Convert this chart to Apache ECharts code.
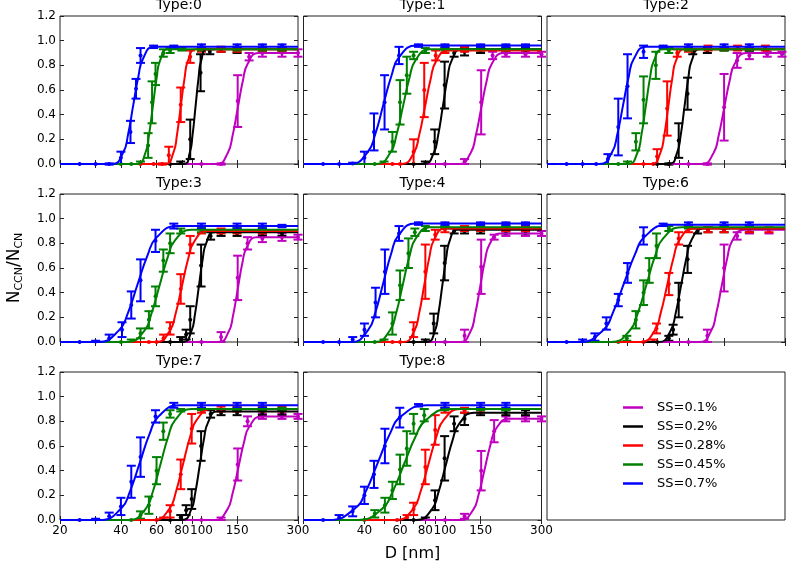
<!DOCTYPE html>
<html><head><meta charset="utf-8">
<script src="https://cdn.jsdelivr.net/npm/echarts@6/dist/echarts.min.js"></script>
<style>html,body{margin:0;padding:0;background:#fff}#c{width:787px;height:564px}</style>
</head><body><div id="c"></div>
<script>
// ---------- data ----------
const panelTitles = ['Type:0','Type:1','Type:2','Type:3','Type:4','Type:6','Type:7','Type:8'];
const ssLabels = ['SS=0.1%','SS=0.2%','SS=0.28%','SS=0.45%','SS=0.7%'];
const xTickValues = [20,30,40,50,60,70,80,90,100,150,300];
const xTickLabels = [20,40,60,80,100,150,300];
const yTickLabels = [0,0.2,0.4,0.6,0.8,1.0,1.2];

// measured points [D, mean, err]; order per panel: SS=0.1, 0.2, 0.28, 0.45, 0.7
const pts0 = [
 [[100,0,0],[125,0,0.005],[151,0.51,0.21],[172,0.87,0.03],[200,0.9,0.03],[250,0.9,0.03],[300,0.9,0.03]],
 [[70,0,0],[79,0.01,0.01],[88,0.2,0.16],[99,0.74,0.15],[110,0.91,0.02],[125,0.93,0.02],[150,0.92,0.02],[200,0.93,0.02],[250,0.93,0.01]],
 [[50,0,0],[58,0,0],[64,0,0.005],[69,0.07,0.07],[79,0.48,0.14],[88,0.87,0.05],[100,0.93,0.02],[125,0.93,0.02],[150,0.93,0.02],[200,0.93,0.02],[250,0.93,0.02]],
 [[40,0,0],[45,0,0],[50,0.01,0.01],[54.5,0.15,0.1],[57,0.5,0.17],[59.3,0.73,0.09],[64.8,0.9,0.03],[70,0.92,0.02],[80,0.93,0.01],[100,0.93,0.01],[150,0.93,0.01],[200,0.93,0.01],[250,0.93,0.01]],
 [[25,0,0],[30,0,0],[35,0,0.005],[40,0.05,0.05],[44.6,0.26,0.09],[47.5,0.61,0.08],[50,0.88,0.06],[58,0.95,0.01],[73,0.95,0.01],[100,0.96,0.01],[150,0.96,0.01],[200,0.96,0.01],[250,0.96,0.01]]
];
const pts1 = [
 [[100,0,0],[125,0.02,0.02],[151,0.5,0.26],[172,0.88,0.03],[200,0.89,0.02],[250,0.89,0.02],[300,0.89,0.02]],
 [[70,0,0],[80,0.01,0.01],[89,0.18,0.1],[99.6,0.64,0.19],[111,0.9,0.03],[125,0.91,0.03],[150,0.92,0.02],[200,0.92,0.02],[250,0.92,0.02]],
 [[55,0,0],[60,0,0],[70,0.1,0.1],[79,0.6,0.22],[90,0.88,0.04],[100,0.92,0.02],[125,0.93,0.02],[150,0.93,0.01],[200,0.93,0.01]],
 [[45,0,0],[50,0.01,0.01],[55,0.18,0.08],[60,0.5,0.18],[64.8,0.72,0.15],[70,0.88,0.03],[80,0.92,0.02],[100,0.93,0.01],[150,0.93,0.01],[200,0.93,0.01]],
 [[25,0,0],[30,0,0],[35,0.005,0.005],[40,0.05,0.05],[44.6,0.26,0.15],[50.3,0.5,0.22],[59.3,0.88,0.07],[74,0.96,0.01],[100,0.96,0.01],[150,0.96,0.01],[200,0.96,0.01],[250,0.96,0.01]]
];
const pts2 = [
 [[100,0,0],[124,0,0.005],[150,0.46,0.27],[174,0.84,0.06],[200,0.88,0.03],[245,0.89,0.02],[290,0.89,0.02]],
 [[70,0,0],[80,0,0.005],[89.5,0.19,0.14],[99,0.57,0.13],[105,0.91,0.02],[124,0.92,0.02],[150,0.93,0.01],[200,0.93,0.01]],
 [[60,0,0],[67,0,0],[70,0.06,0.06],[78.5,0.45,0.22],[88,0.9,0.03],[100,0.93,0.02],[125,0.94,0.02],[175,0.94,0.02],[240,0.94,0.02]],
 [[45,0,0],[50,0.01,0.01],[55,0.18,0.07],[60,0.52,0.19],[69,0.8,0.11],[80,0.92,0.02],[100,0.93,0.01],[150,0.93,0.01],[200,0.93,0.01]],
 [[25,0,0],[30,0,0],[35,0,0],[40,0.04,0.04],[45,0.3,0.23],[50,0.63,0.26],[60,0.91,0.05],[75,0.95,0.01],[100,0.96,0.01],[150,0.96,0.01],[200,0.96,0.01]]
];
const pts3 = [
 [[100,0,0],[125,0.04,0.04],[151,0.52,0.18],[169,0.8,0.05],[200,0.84,0.03],[250,0.85,0.03],[300,0.85,0.02]],
 [[70,0,0],[79,0.02,0.02],[84,0.06,0.04],[88,0.18,0.11],[99.6,0.62,0.17],[111,0.86,0.03],[125,0.88,0.02],[150,0.88,0.02],[200,0.88,0.02],[250,0.88,0.02]],
 [[55,0,0],[60,0,0],[65,0.03,0.03],[70,0.11,0.05],[79,0.43,0.12],[88,0.79,0.07],[100,0.9,0.02],[125,0.9,0.02],[150,0.9,0.02],[200,0.9,0.02]],
 [[40,0,0],[45,0.01,0.01],[50,0.07,0.04],[55,0.18,0.07],[59.3,0.37,0.08],[64.8,0.66,0.09],[70,0.8,0.08],[79,0.9,0.02],[100,0.91,0.02],[150,0.91,0.02],[200,0.91,0.02]],
 [[25,0,0],[30,0.005,0.005],[35,0.03,0.03],[40.5,0.1,0.06],[45,0.3,0.11],[50,0.5,0.17],[59.3,0.82,0.09],[73,0.94,0.02],[100,0.94,0.02],[150,0.94,0.02],[200,0.94,0.02],[250,0.94,0.01]]
];
const pts4 = [
 [[100,0,0],[125,0.05,0.05],[151,0.61,0.22],[175,0.85,0.02],[200,0.88,0.02],[250,0.88,0.02],[300,0.88,0.02]],
 [[70,0,0],[80,0.01,0.01],[88,0.15,0.08],[99.6,0.64,0.14],[111,0.9,0.02],[125,0.9,0.02],[150,0.9,0.02],[200,0.9,0.02],[250,0.9,0.02]],
 [[55,0,0],[60,0,0],[70,0.1,0.06],[80,0.57,0.22],[89.5,0.87,0.04],[100,0.91,0.02],[125,0.92,0.02],[150,0.92,0.02],[200,0.92,0.02],[250,0.92,0.02]],
 [[45,0,0],[50,0.01,0.01],[55,0.15,0.09],[60,0.46,0.12],[66,0.72,0.12],[71,0.89,0.03],[80,0.92,0.02],[100,0.93,0.01],[150,0.93,0.01],[200,0.93,0.01]],
 [[25,0,0],[30,0,0],[35,0.02,0.02],[40,0.1,0.05],[45.4,0.32,0.12],[50.5,0.57,0.18],[59.3,0.88,0.06],[74,0.96,0.01],[100,0.96,0.01],[150,0.96,0.01],[200,0.96,0.01],[250,0.96,0.01]]
];
const pts6 = [
 [[100,0,0],[124,0.05,0.05],[150,0.6,0.19],[174,0.86,0.03],[200,0.9,0.02],[250,0.9,0.02]],
 [[70,0,0],[80,0.03,0.02],[84,0.1,0.04],[89.5,0.34,0.14],[99,0.67,0.11],[111,0.9,0.02],[125,0.91,0.02],[150,0.91,0.02],[200,0.91,0.02]],
 [[60,0,0],[67,0.01,0.01],[69.5,0.11,0.04],[80,0.47,0.09],[89.5,0.84,0.05],[100,0.91,0.02],[125,0.91,0.02],[150,0.91,0.02],[200,0.91,0.02],[250,0.91,0.02]],
 [[45,0,0],[49.6,0.03,0.02],[55,0.18,0.07],[60,0.4,0.1],[64,0.58,0.1],[69.5,0.78,0.1],[80,0.92,0.02],[100,0.93,0.01],[150,0.93,0.01],[200,0.93,0.01]],
 [[25,0,0],[30,0.01,0.01],[34.5,0.04,0.03],[39.3,0.15,0.05],[45,0.34,0.05],[50,0.56,0.08],[60,0.86,0.07],[75,0.95,0.01],[100,0.96,0.01],[150,0.96,0.01],[200,0.96,0.01]]
];
const pts7 = [
 [[100,0,0],[125,0.01,0.01],[151,0.45,0.13],[169,0.8,0.04],[200,0.84,0.02],[250,0.84,0.02],[300,0.84,0.02]],
 [[70,0,0],[79,0.02,0.02],[84,0.08,0.04],[89.5,0.17,0.08],[99.6,0.6,0.12],[111,0.86,0.03],[125,0.87,0.02],[150,0.87,0.02],[200,0.87,0.02],[250,0.87,0.02]],
 [[60,0,0],[65,0.01,0.01],[70,0.07,0.05],[79,0.37,0.12],[89.5,0.74,0.12],[100,0.89,0.02],[125,0.9,0.02],[150,0.9,0.02],[200,0.9,0.02],[250,0.9,0.02]],
 [[45,0,0],[50,0.04,0.03],[55,0.12,0.07],[60,0.4,0.11],[64.8,0.72,0.07],[70,0.86,0.03],[79,0.89,0.01],[100,0.9,0.01],[150,0.9,0.01],[200,0.9,0.01],[250,0.9,0.01]],
 [[25,0,0],[30,0.005,0.005],[35,0.03,0.03],[40,0.11,0.07],[45,0.31,0.13],[50,0.51,0.16],[59.3,0.84,0.05],[73,0.93,0.02],[100,0.93,0.02],[150,0.93,0.02],[200,0.93,0.02]]
];
const pts8 = [
 [[100,0,0],[125,0.03,0.02],[151,0.4,0.16],[175,0.72,0.09],[200,0.82,0.02],[250,0.82,0.02],[300,0.82,0.02]],
 [[70,0,0],[80,0.01,0.01],[89.3,0.16,0.08],[99.6,0.5,0.18],[111,0.78,0.06],[125,0.82,0.05],[150,0.87,0.02],[200,0.87,0.02],[250,0.87,0.02]],
 [[58,0,0],[65,0.02,0.02],[70,0.09,0.05],[80,0.43,0.14],[89.5,0.73,0.12],[100,0.89,0.02],[125,0.89,0.02],[150,0.89,0.02]],
 [[40,0,0],[45,0.05,0.03],[50.5,0.12,0.06],[55,0.24,0.07],[60,0.41,0.12],[64.8,0.58,0.14],[70,0.78,0.08],[79,0.85,0.05],[100,0.9,0.01],[150,0.9,0.01],[200,0.9,0.01]],
 [[25,0,0],[30,0.02,0.02],[35,0.07,0.04],[40,0.2,0.07],[44.6,0.37,0.11],[50.5,0.6,0.14],[59.8,0.83,0.08],[74,0.93,0.01],[100,0.93,0.02],[150,0.93,0.02],[200,0.93,0.02]]
];

// fitted curves [D, fraction]
const fit0 = [
 [[20,0],[119.2,0],[134.9,0.09],[142.3,0.225],[151,0.45],[160.2,0.675],[169,0.81],[191.3,0.9],[300,0.9]],
 [[20,0],[81.5,0],[87.6,0.093],[90.3,0.23],[93.5,0.465],[96.8,0.7],[99.8,0.84],[107.3,0.93],[300,0.93]],
 [[20,0],[66.2,0],[72.7,0.093],[75.6,0.23],[79,0.465],[82.6,0.7],[85.9,0.84],[94.2,0.93],[300,0.93]],
 [[20,0],[48.2,0],[52.9,0.093],[55,0.23],[57.5,0.465],[60.1,0.7],[62.5,0.84],[68.6,0.93],[300,0.93]],
 [[20,0],[36.3,0],[41.1,0.095],[43.4,0.24],[46,0.475],[48.8,0.71],[51.5,0.855],[58.3,0.95],[300,0.95]]
];
const fit1 = [
 [[20,0],[117.4,0],[134,0.09],[141.8,0.225],[151,0.45],[160.8,0.675],[170.2,0.81],[194.3,0.9],[300,0.9]],
 [[20,0],[78.8,0],[88.2,0.093],[92.5,0.23],[97.6,0.465],[103,0.7],[108,0.84],[120.9,0.93],[300,0.93]],
 [[20,0],[61.2,0],[70.2,0.092],[74.5,0.23],[79.6,0.46],[85,0.69],[90.2,0.83],[103.6,0.92],[300,0.92]],
 [[20,0],[45.9,0],[53.8,0.093],[57.5,0.23],[62,0.465],[66.8,0.7],[71.5,0.84],[83.7,0.93],[300,0.93]],
 [[20,0],[34.1,0],[41.5,0.096],[45.2,0.24],[49.6,0.48],[54.5,0.72],[59.2,0.864],[72.1,0.96],[300,0.96]]
];
const fit2 = [
 [[20,0],[116.6,0],[133.1,0.09],[140.8,0.225],[150,0.45],[159.8,0.675],[169.1,0.81],[193,0.9],[300,0.9]],
 [[20,0],[80.2,0],[87.9,0.093],[91.5,0.23],[95.6,0.465],[99.9,0.7],[103.9,0.84],[114,0.93],[300,0.93]],
 [[20,0],[65.9,0],[72.7,0.093],[75.9,0.23],[79.5,0.465],[83.3,0.7],[86.9,0.84],[95.9,0.93],[300,0.93]],
 [[20,0],[50.4,0],[56,0.093],[58.5,0.23],[61.5,0.465],[64.6,0.7],[67.6,0.84],[75,0.93],[300,0.93]],
 [[20,0],[36.5,0],[41.9,0.095],[44.5,0.24],[47.5,0.475],[50.7,0.71],[53.8,0.855],[61.8,0.95],[300,0.95]]
];
const fit3 = [
 [[20,0],[121.9,0],[136.4,0.085],[143.1,0.21],[151,0.425],[159.3,0.64],[167.2,0.765],[187,0.85],[300,0.85]],
 [[20,0],[81.3,0],[89.2,0.089],[92.8,0.22],[97,0.445],[101.4,0.67],[105.5,0.8],[115.7,0.89],[300,0.89]],
 [[20,0],[59.9,0],[69.7,0.09],[74.4,0.225],[80,0.45],[86,0.675],[91.8,0.81],[106.8,0.9],[300,0.9]],
 [[20,0],[43.1,0],[52.2,0.091],[56.6,0.23],[62,0.455],[67.9,0.68],[73.7,0.82],[89.2,0.91],[300,0.91]],
 [[20,0],[30.9,0],[39.1,0.094],[43.3,0.235],[48.4,0.47],[54.2,0.705],[59.9,0.846],[75.9,0.94],[300,0.94]]
];
const fit4 = [
 [[20,0],[118.9,0],[133.9,0.088],[140.8,0.22],[149,0.44],[157.6,0.66],[165.9,0.79],[186.7,0.88],[300,0.88]],
 [[20,0],[81.3,0],[89.2,0.091],[92.8,0.23],[97,0.455],[101.4,0.68],[105.5,0.82],[115.7,0.91],[300,0.91]],
 [[20,0],[62.3,0],[70.6,0.092],[74.5,0.23],[79,0.46],[83.8,0.69],[88.4,0.83],[100.1,0.92],[300,0.92]],
 [[20,0],[45.3,0],[53.4,0.093],[57.3,0.23],[61.9,0.465],[66.9,0.7],[71.8,0.84],[84.5,0.93],[300,0.93]],
 [[20,0],[34.5,0],[41.7,0.096],[45.3,0.24],[49.6,0.48],[54.3,0.72],[58.9,0.864],[71.3,0.96],[300,0.96]]
];
const fit6 = [
 [[20,0],[113.5,0],[129.5,0.091],[137.1,0.23],[146,0.455],[155.5,0.68],[164.6,0.82],[187.8,0.91],[300,0.91]],
 [[20,0],[71.5,0],[81.6,0.092],[86.4,0.23],[92,0.46],[98,0.69],[103.7,0.83],[118.4,0.92],[300,0.92]],
 [[20,0],[58.1,0],[68.1,0.092],[72.8,0.23],[78.5,0.46],[84.6,0.69],[90.5,0.83],[106,0.92],[300,0.92]],
 [[20,0],[41.6,0],[51.3,0.093],[56.1,0.23],[62,0.465],[68.5,0.7],[75,0.84],[92.4,0.93],[300,0.93]],
 [[20,0],[29.1,0],[37.9,0.095],[42.4,0.24],[48,0.475],[54.4,0.71],[60.9,0.855],[79.1,0.95],[300,0.95]]
];
const fit7 = [
 [[20,0],[116.8,0],[134.1,0.084],[142.3,0.21],[152,0.42],[162.3,0.63],[172.2,0.756],[197.8,0.84],[300,0.84]],
 [[20,0],[80.3,0],[89.2,0.088],[93.2,0.22],[98,0.44],[103,0.66],[107.7,0.79],[119.6,0.88],[300,0.88]],
 [[20,0],[58.4,0],[69.4,0.09],[74.7,0.225],[81,0.45],[87.9,0.675],[94.6,0.81],[112.3,0.9],[300,0.9]],
 [[20,0],[44.1,0],[53,0.09],[57.4,0.225],[62.7,0.45],[68.5,0.675],[74.1,0.81],[89.2,0.9],[300,0.9]],
 [[20,0],[31.6,0],[40.1,0.093],[44.3,0.23],[49.6,0.465],[55.5,0.7],[61.4,0.84],[77.8,0.93],[300,0.93]]
];
const fit8 = [
 [[20,0],[119.3,0],[137.8,0.082],[146.6,0.205],[157,0.41],[168.1,0.615],[178.9,0.74],[206.6,0.82],[300,0.82]],
 [[20,0],[72.6,0],[86.2,0.087],[92.7,0.22],[100.6,0.435],[109.2,0.65],[117.5,0.78],[139.4,0.87],[300,0.87]],
 [[20,0],[57.6,0],[69.7,0.09],[75.6,0.225],[82.8,0.45],[90.7,0.675],[98.4,0.81],[119.1,0.9],[300,0.9]],
 [[20,0],[37.1,0],[48.9,0.09],[55,0.225],[62.7,0.45],[71.5,0.675],[80.4,0.81],[105.9,0.9],[300,0.9]],
 [[20,0],[26.8,0],[35.9,0.093],[40.6,0.23],[46.6,0.465],[53.5,0.7],[60.6,0.84],[80.9,0.93],[300,0.93]]
];

// ---------- styles / layout ----------
const colors = ['#bf00bf','#000000','#ff0000','#008000','#0000ff'];
const FONT = 'DejaVu Sans';
const colLefts = [60, 303.5, 547];
const rowTops = [16, 194, 372];
const PW = 238, PH = 148;

const allPts = [pts0, pts1, pts2, pts3, pts4, pts6, pts7, pts8];
const allFits = [fit0, fit1, fit2, fit3, fit4, fit6, fit7, fit8];

function makeErrRender(color){
  return function(params, api){
    const x = api.value(0);
    const lo = api.coord([x, api.value(1)]);
    const hi = api.coord([x, api.value(2)]);
    const m = api.coord([x, api.value(3)]);
    const hw = 4.5;
    const st = {stroke: color, lineWidth: 2, fill: 'none'};
    return {type:'group', children:[
      {type:'line', shape:{x1:lo[0],y1:lo[1],x2:hi[0],y2:hi[1]}, style:st},
      {type:'line', shape:{x1:lo[0]-hw,y1:lo[1],x2:lo[0]+hw,y2:lo[1]}, style:st},
      {type:'line', shape:{x1:hi[0]-hw,y1:hi[1],x2:hi[0]+hw,y2:hi[1]}, style:st},
      {type:'circle', shape:{cx:m[0],cy:m[1],r:2}, style:{fill:color, stroke:null}}
    ]};
  };
}

const grid = [], xAxis = [], yAxis = [], series = [];
for (let i = 0; i < 8; i++) {
  const r = Math.floor(i / 3), c = i % 3;
  grid.push({left: colLefts[c], top: rowTops[r], width: PW, height: PH, show: true,
    borderColor: '#222', borderWidth: 1, backgroundColor: '#fff', outerBoundsMode: 'none'});
  const xtick = {show: true, inside: true, length: 4, customValues: xTickValues, lineStyle: {color: '#222', width: 1}};
  const labs = (c === 0) ? xTickLabels : xTickLabels.slice(1);
  const xb = {type: 'log', logBase: 10, gridIndex: i, min: 20, max: 300,
    axisLine: {show: false}, splitLine: {show: false}, axisTick: xtick,
    axisLabel: {show: r === 2, customValues: labs, fontSize: 12, color: '#000', margin: 5, fontFamily: FONT}};
  if (i === 7) {
    xb.name = 'D [nm]'; xb.nameLocation = 'middle'; xb.nameGap = 26;
    xb.nameTextStyle = {fontSize: 16, color: '#000', fontFamily: FONT, padding: [0, 20, 0, 0]};
  }
  xAxis.push(xb);
  xAxis.push({type: 'log', logBase: 10, gridIndex: i, position: 'top', min: 20, max: 300,
    axisLine: {show: false}, splitLine: {show: false}, axisTick: xtick, axisLabel: {show: false},
    name: panelTitles[i], nameLocation: 'middle', nameGap: 4,
    nameTextStyle: {fontSize: 14, color: '#000', fontFamily: FONT}});
  const ytick = {show: true, inside: true, length: 4, lineStyle: {color: '#222', width: 1}};
  const yl = {type: 'value', gridIndex: i, min: yTickLabels[0], max: yTickLabels[yTickLabels.length-1], interval: 0.2,
    axisLine: {show: false}, splitLine: {show: false}, axisTick: ytick,
    axisLabel: {show: c === 0, formatter: v => v.toFixed(1), fontSize: 12, color: '#000', margin: 4, fontFamily: FONT}};
  if (i === 3) {
    yl.name = '{a|N}{b|CCN}{a|/N}{b|CN}';
    yl.nameLocation = 'middle'; yl.nameGap = 35; yl.nameRotate = 90;
    yl.nameTextStyle = {color: '#000', fontFamily: FONT, rich: {
      a: {fontSize: 17, fontFamily: FONT, color: '#000'},
      b: {fontSize: 11, fontFamily: FONT, color: '#000', padding: [9, 0, 0, 0]}
    }};
  }
  yAxis.push(yl);
  yAxis.push({type: 'value', gridIndex: i, position: 'right', min: 0, max: 1.2, interval: 0.2,
    axisLine: {show: false}, splitLine: {show: false}, axisTick: ytick, axisLabel: {show: false}});

  for (let k = 0; k < 5; k++) {
    series.push({type: 'line', name: ssLabels[k], xAxisIndex: 2*i, yAxisIndex: 2*i,
      data: allFits[i][k], smooth: 0.5, showSymbol: false, symbol: 'none',
      lineStyle: {color: colors[k], width: 2}, itemStyle: {color: colors[k]}, silent: true, z: 2});
    series.push({type: 'custom', name: ssLabels[k] + ' data', xAxisIndex: 2*i, yAxisIndex: 2*i,
      data: allPts[i][k].map(p => [p[0], p[1] - p[2], p[1] + p[2], p[1]]),
      encode: {x: 0, y: [1, 2, 3]}, renderItem: makeErrRender(colors[k]), silent: true, z: 2});
  }
}
// legend panel
grid.push({left: colLefts[2], top: rowTops[2], width: PW, height: PH, show: true,
  borderColor: '#222', borderWidth: 1, backgroundColor: '#fff', outerBoundsMode: 'none'});
xAxis.push({type: 'value', gridIndex: 8, show: false});
yAxis.push({type: 'value', gridIndex: 8, show: false});

const chart = echarts.init(document.getElementById('c'), null, {renderer: 'canvas'});
chart.setOption({
  animation: false,
  backgroundColor: '#fff',
  textStyle: {fontFamily: FONT},
  grid: grid, xAxis: xAxis, yAxis: yAxis, series: series,
  legend: {data: ssLabels, orient: 'vertical', left: 618, top: 395, icon: 'rect',
    itemWidth: 20, itemHeight: 2.5, itemGap: 4, selectedMode: false,
    textStyle: {fontSize: 13, color: '#000', lineHeight: 15, fontFamily: FONT, padding: [0, 0, 0, 9]}}
});
</script></body></html>
